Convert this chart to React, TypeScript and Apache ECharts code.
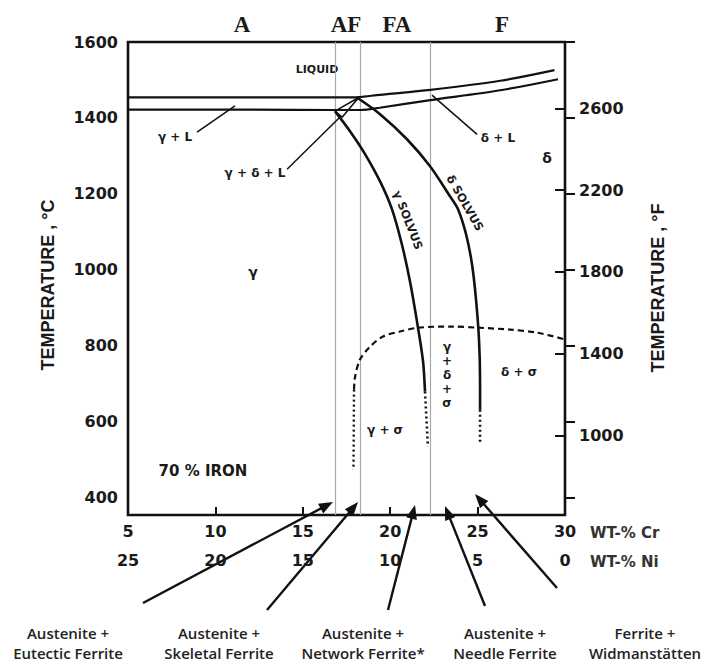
import React, { useEffect, useRef } from "react";
import * as echarts from "echarts";

// Fe–Cr–Ni vertical section at 70 % Fe (Ni = 30 − Cr); x = wt-% Cr, y = °C
const crMin = 5;
const crMax = 30;
const niMin = 0;
const niMax = 25;
const tempMinC = 355;
const tempMaxC = 1600;
const tempMinF = 610;
const tempMaxF = 2925;
const tempTicksC = [400, 600, 800, 1000, 1200, 1400, 1600];
const tempTicksF = [1000, 1400, 1800, 2200, 2600];

// phase boundaries [Cr, °C]
const liquidus = [
  [5, 1454], [12, 1454], [17.4, 1454], [18.2, 1455], [19.4, 1461], [22.3, 1474], [26.3, 1498], [29.4, 1526],
];
const solidus = [
  [5, 1422], [12, 1422], [16.8, 1421], [18.3, 1421], [19.4, 1427], [22.3, 1447], [26.3, 1473], [29.6, 1502],
];
const threePhaseTriangle = [
  [16.84, 1418], [18.2, 1454], [17.25, 1402], [16.84, 1418],
];
const gammaSolvus = [
  [16.84, 1418], [17.7, 1365], [18.56, 1305], [19.42, 1233], [20.1, 1160], [20.67, 1067],
  [21.13, 970], [21.59, 848], [21.88, 759], [21.99, 680],
];
const gammaSolvusLow = [[21.99, 680], [22.16, 535]];
const deltaSolvus = [
  [18.16, 1452], [19.42, 1410], [20.96, 1344], [22.28, 1273], [23.42, 1194], [23.88, 1160],
  [24.34, 1094], [24.68, 1015], [24.91, 922], [25.08, 817], [25.14, 711], [25.14, 632],
];
const deltaSolvusLow = [[25.14, 632], [25.14, 548]];
const sigmaSolvus = [
  [17.93, 685], [17.99, 719], [18.27, 764], [18.84, 798], [19.59, 825], [20.56, 838], [21.59, 848],
  [23.42, 851], [25.02, 848], [26.85, 843], [28.4, 835], [30, 817],
];
const sigmaSolvusLow = [[17.93, 685], [17.9, 474]];

// leader lines from region names to their fields
const leaderGammaL = [[8.95, 1363], [11.12, 1432]];
const leaderGammaDeltaL = [[14.1, 1265], [17.19, 1405]];
const leaderDeltaL = [[22.39, 1460], [24.97, 1357]];

// solidification-mode boundaries (wt-% Cr)
const modeBoundariesCr = [16.84, 18.27, 22.3];
const solidificationModes = ["A", "AF", "FA", "F"];
const morphologyLabels = [
  ["Austenite +", "Eutectic Ferrite"],
  ["Austenite +", "Skeletal Ferrite"],
  ["Austenite +", "Network Ferrite*"],
  ["Austenite +", "Needle Ferrite"],
  ["Ferrite +", "Widmanstätten"],
];

// layout (pixels)
const modeLabelX = [242, 346, 397, 502];
const morphologyX = [68, 219, 363, 505, 645];
const arrowPaths = [
  [143, 603, 333, 502],
  [267, 610, 358, 502],
  [388, 610, 415, 505],
  [485, 606, 445, 506],
  [557, 588, 475, 494],
];

const INK = "#111";
const TICK_FONT = {
  fontFamily: "DejaVu Sans",
  fontWeight: "bold" as const,
  fontSize: 16,
  color: "#1a1a1a",
  formatter: (v: number) => String(v),
};

function curve(data: number[][], width: number, type: any = "solid", smooth: number = 0.3) {
  return {
    type: "line",
    data,
    xAxisIndex: 0,
    yAxisIndex: 0,
    symbol: "none",
    smooth,
    silent: true,
    lineStyle: { color: INK, width, type },
    z: 3,
  };
}

function label(text: string, x: number, y: number, size: number, extra: any = {}) {
  return {
    type: "text",
    x,
    y,
    rotation: extra.rotation || 0,
    silent: true,
    style: {
      text,
      fontFamily: extra.fontFamily || "DejaVu Sans",
      fontWeight: extra.fontWeight || "bold",
      fontSize: size,
      lineHeight: extra.lineHeight,
      fill: extra.fill || "#1a1a1a",
      align: extra.align || "center",
      verticalAlign: "middle",
    },
  };
}

function arrow(x1: number, y1: number, x2: number, y2: number) {
  const dx = x2 - x1;
  const dy = y2 - y1;
  const len = Math.hypot(dx, dy);
  const ux = dx / len;
  const uy = dy / len;
  const headLen = 14;
  const halfW = 5.5;
  const bx = x2 - ux * headLen;
  const by = y2 - uy * headLen;
  return [
    {
      type: "line",
      silent: true,
      shape: { x1, y1, x2: bx + ux * 2, y2: by + uy * 2 },
      style: { stroke: INK, lineWidth: 2.4 },
    },
    {
      type: "polygon",
      silent: true,
      shape: {
        points: [
          [x2, y2],
          [bx - uy * halfW, by + ux * halfW],
          [bx + uy * halfW, by - ux * halfW],
        ],
      },
      style: { fill: INK },
    },
  ];
}

export default function App() {
  const ref = useRef<HTMLDivElement>(null);

  useEffect(() => {
    if (!ref.current) return;
    const chart = echarts.init(ref.current, null, { renderer: "svg" });

    const graphic: any[] = [];
    solidificationModes.forEach((m, i) =>
      graphic.push(label(m, modeLabelX[i], 24, 23, { fontFamily: "Liberation Serif" }))
    );
    graphic.push(
      label("TEMPERATURE , °C", 48, 285, 18, { rotation: Math.PI / 2, fontFamily: "Liberation Sans" }),
      label("TEMPERATURE , °F", 658, 288, 18, { rotation: Math.PI / 2, fontFamily: "Liberation Sans" }),
      label("WT-% Cr", 590, 533, 15, { align: "left", fill: "#333" }),
      label("WT-% Ni", 590, 562, 15, { align: "left", fill: "#333" }),
      label("LIQUID", 317, 69, 11),
      label("γ + L", 175, 137, 12),
      label("γ + δ + L", 255, 173, 12),
      label("δ + L", 498, 138, 12),
      label("δ", 547, 158, 14),
      label("γ", 253, 272, 14),
      label("70 % IRON", 203, 471, 15),
      label("γ + σ", 385, 430, 12),
      label("δ + σ", 519, 372, 12),
      label("γ\n+\nδ\n+\nσ", 447, 375, 12, { lineHeight: 14 }),
      label("γ SOLVUS", 408, 220, 11.5, { rotation: -1.2 }),
      label("δ SOLVUS", 465, 203, 11.5, { rotation: -1.05 })
    );
    morphologyLabels.forEach((lines, i) => {
      graphic.push(
        label(lines[0], morphologyX[i], 633, 15, { fontFamily: "Open Sans", fontWeight: 600, fill: "#222" }),
        label(lines[1], morphologyX[i], 653, 15, { fontFamily: "Open Sans", fontWeight: 600, fill: "#222" })
      );
    });
    arrowPaths.forEach(([x1, y1, x2, y2]) => graphic.push(...arrow(x1, y1, x2, y2)));

    const liquidusSeries: any = curve(liquidus, 2.2);
    liquidusSeries.markLine = {
      silent: true,
      symbol: ["none", "none"],
      label: { show: false },
      lineStyle: { color: "#a8a8a8", width: 1.2, type: "solid" },
      data: modeBoundariesCr.map((v) => ({ xAxis: v })),
      z: 1,
    };

    chart.setOption({
      animation: false,
      backgroundColor: "#fff",
      grid: {
        left: 128,
        right: 136,
        top: 42,
        bottom: 147,
        show: true,
        borderColor: INK,
        borderWidth: 2.6,
        backgroundColor: "transparent",
      },
      xAxis: [
        {
          type: "value",
          min: crMin,
          max: crMax,
          interval: 5,
          position: "bottom",
          axisLine: { show: false },
          axisTick: { show: true, inside: true, length: 8, lineStyle: { color: INK, width: 2 } },
          axisLabel: { margin: 8, ...TICK_FONT },
          splitLine: { show: false },
        },
        {
          type: "value",
          min: niMin,
          max: niMax,
          interval: 5,
          inverse: true,
          position: "bottom",
          offset: 29,
          axisLine: { show: false },
          axisTick: { show: false },
          axisLabel: { margin: 8, ...TICK_FONT },
          splitLine: { show: false },
        },
      ],
      yAxis: [
        {
          type: "value",
          min: tempMinC,
          max: tempMaxC,
          position: "left",
          axisLine: { show: false },
          axisTick: {
            show: true,
            inside: true,
            length: 10,
            customValues: tempTicksC,
            lineStyle: { color: INK, width: 2 },
          },
          axisLabel: { margin: 10, customValues: tempTicksC, ...TICK_FONT },
          splitLine: { show: false },
        },
        {
          type: "value",
          min: tempMinF,
          max: tempMaxF,
          position: "right",
          axisLine: { show: false },
          axisTick: {
            show: true,
            inside: true,
            length: 10,
            customValues: tempTicksF,
            lineStyle: { color: INK, width: 2 },
          },
          axisLabel: { margin: 14, customValues: tempTicksF, ...TICK_FONT },
          splitLine: { show: false },
        },
      ],
      series: [
        liquidusSeries,
        curve(solidus, 2.2),
        curve(threePhaseTriangle, 1.6, "solid", 0),
        curve(gammaSolvus, 2.6),
        curve(gammaSolvusLow, 2.6, [2, 3], 0),
        curve(deltaSolvus, 2.6),
        curve(deltaSolvusLow, 2.6, [2, 3], 0),
        curve(sigmaSolvus, 2.2, [6, 4]),
        curve(sigmaSolvusLow, 2.4, [2, 3], 0),
        curve(leaderGammaL, 1.5, "solid", 0),
        curve(leaderGammaDeltaL, 1.5, "solid", 0),
        curve(leaderDeltaL, 1.5, "solid", 0),
      ],
      graphic,
    });

    return () => chart.dispose();
  }, []);

  return (
    <div
      ref={ref}
      style={{ position: "fixed", left: 0, top: 0, width: 701, height: 662, background: "#fff" }}
    />
  );
}
